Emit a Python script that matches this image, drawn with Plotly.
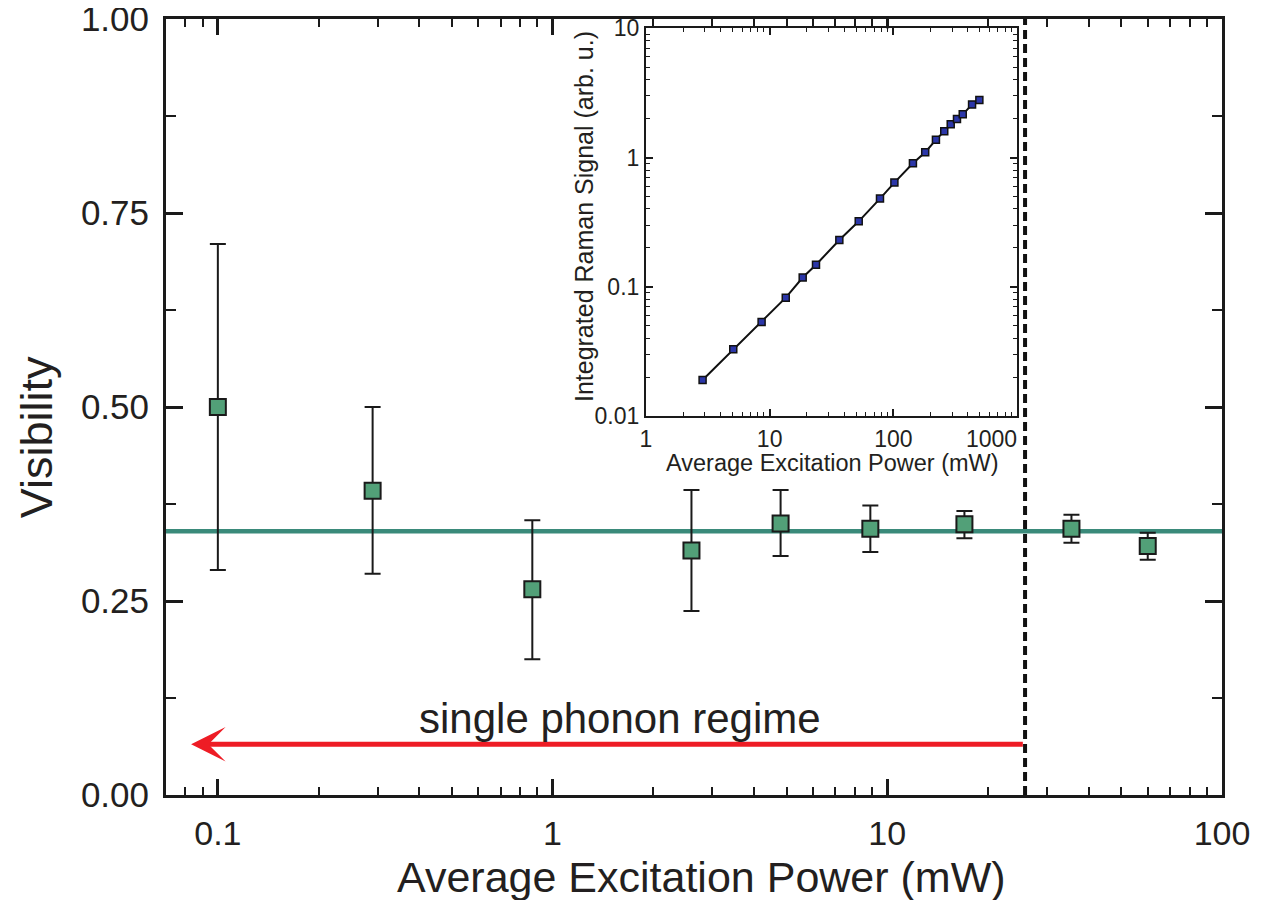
import math
import plotly.graph_objects as go

# ---------------- data ----------------
power_mw = [0.1, 0.29, 0.87, 2.6, 4.8, 8.9, 17, 35.5, 60]
visibility = [0.50, 0.392, 0.265, 0.315, 0.350, 0.343, 0.349, 0.343, 0.321]
vis_upper = [0.710, 0.500, 0.354, 0.393, 0.393, 0.373, 0.366, 0.361, 0.338]
vis_lower = [0.290, 0.285, 0.175, 0.237, 0.308, 0.313, 0.331, 0.325, 0.303]
mean_visibility = 0.34
regime_limit_mw = 25.8

inset_power = [2.87, 5.08, 8.61, 13.5, 18.5, 23.7, 36.6, 52.5, 78, 102,
               144, 181, 221, 258, 291, 327, 364, 433, 496]
inset_signal = [0.019, 0.0328, 0.0534, 0.0824, 0.118, 0.148, 0.230, 0.321,
                0.481, 0.640, 0.902, 1.10, 1.37, 1.60, 1.81, 1.99, 2.16,
                2.57, 2.79]

main_xticks = [0.1, 1, 10, 100]
main_xticktext = ["0.1", "1", "10", "100"]
main_yticks = [0, 0.25, 0.5, 0.75, 1.0]
main_yticktext = ["0.00", "0.25", "0.50", "0.75", "1.00"]
inset_xticks = [1, 10, 100, 1000]
inset_xticktext = ["1", "10", "100", "1000" + "\u00a0" * 8]
inset_yticks = [0.01, 0.1, 1, 10]
inset_yticktext = ["0.01", "0.1", "1", "10"]

# ---------------- styles ----------------
FONT = "Liberation Sans, Arial, Helvetica, sans-serif"
TXT = "#231F20"
GREEN = "#52A078"
TEAL = "#3A8A7A"
BLUE = "#2B36A8"
RED = "#EE1C25"

err_plus = [u - v for u, v in zip(vis_upper, visibility)]
err_minus = [v - l for v, l in zip(visibility, vis_lower)]

x_lo, x_hi = 0.07, 100

def minor_vals(decades):
    out = []
    for d in decades:
        for m in range(2, 10):
            out.append(m * 10 ** d)
    return out

fig = go.Figure()

# mean visibility line
fig.add_trace(go.Scatter(
    x=[x_lo, x_hi], y=[mean_visibility, mean_visibility],
    mode="lines", line=dict(color=TEAL, width=4.5),
    hoverinfo="skip", showlegend=False, xaxis="x", yaxis="y"))

# regime boundary
fig.add_trace(go.Scatter(
    x=[regime_limit_mw, regime_limit_mw], y=[0, 1],
    mode="lines", line=dict(color="#111111", width=4, dash="9px,5px"),
    hoverinfo="skip", showlegend=False, xaxis="x", yaxis="y"))

# data with error bars
fig.add_trace(go.Scatter(
    x=power_mw, y=visibility, mode="markers",
    marker=dict(symbol="square", size=16, color=GREEN,
                line=dict(color="#1a1a1a", width=2)),
    error_y=dict(type="data", symmetric=False, array=err_plus,
                 arrayminus=err_minus, color="#1a1a1a", thickness=2, width=8),
    showlegend=False, xaxis="x", yaxis="y"))

# inset
fig.add_trace(go.Scatter(
    x=inset_power, y=inset_signal, mode="lines+markers",
    line=dict(color="#111111", width=2),
    marker=dict(symbol="square", size=7, color=BLUE,
                line=dict(color="#111111", width=1.5)),
    showlegend=False, xaxis="x2", yaxis="y2"))

ax_common = dict(showgrid=False, zeroline=False, showline=True,
                 linecolor="#1a1a1a", mirror="allticks", ticks="inside",
                 tickcolor="#1a1a1a", automargin=False,
                 ticklabeloverflow="allow")

# the page body adds an 8px offset, so the figure is 8px smaller here
fig.update_layout(
    width=1258, height=892, autosize=False,
    margin=dict(l=158, r=44, t=11, b=105),
    paper_bgcolor="white", plot_bgcolor="white",
    font=dict(family=FONT, color=TXT),
    xaxis=dict(**ax_common, type="log",
               range=[math.log10(x_lo), math.log10(x_hi)],
               linewidth=3, ticklen=16, tickwidth=2.5,
               tickvals=main_xticks, ticktext=main_xticktext,
               tickfont=dict(size=34, family=FONT, color=TXT),
               ticklabelstandoff=6,
               minor=dict(ticks="inside", ticklen=8, tickwidth=2,
                          tickcolor="#1a1a1a",
                          tickvals=minor_vals([-2, -1, 0, 1]))),
    yaxis=dict(**ax_common, range=[0, 1], linewidth=3, ticklen=17,
               tickwidth=2.5, tickvals=main_yticks, ticktext=main_yticktext,
               tickfont=dict(size=35, family=FONT, color=TXT),
               ticklabelstandoff=7,
               minor=dict(ticks="inside", ticklen=10, tickwidth=2,
                          tickcolor="#1a1a1a",
                          tickvals=[0.125, 0.375, 0.625, 0.875])),
    xaxis2=dict(**ax_common, type="log", range=[0, 3],
                domain=[0.4545, 0.8059], anchor="y2",
                linewidth=2, ticklen=7, tickwidth=1.5,
                tickvals=inset_xticks, ticktext=inset_xticktext,
                tickfont=dict(size=23, family=FONT, color=TXT),
                ticklabelstandoff=1,
                minor=dict(ticks="inside", ticklen=4, tickwidth=1.2,
                           tickcolor="#1a1a1a",
                           tickvals=minor_vals([0, 1, 2]))),
    yaxis2=dict(**ax_common, type="log", range=[-2, 1],
                domain=[0.4884, 0.988], anchor="x2",
                linewidth=2, ticklen=7, tickwidth=1.5,
                tickvals=inset_yticks, ticktext=inset_yticktext,
                tickfont=dict(size=23, family=FONT, color=TXT),
                ticklabelstandoff=0,
                minor=dict(ticks="inside", ticklen=4, tickwidth=1.2,
                           tickcolor="#1a1a1a",
                           tickvals=minor_vals([-2, -1, 0]))),
)

# arrow for single-phonon regime
fig.add_annotation(
    x=math.log10(0.0832), y=0.0653, ax=math.log10(regime_limit_mw * 0.995),
    ay=0.0653, xref="x", yref="y", axref="x", ayref="y",
    text="", showarrow=True, arrowhead=3, arrowwidth=5, arrowsize=1.15,
    arrowcolor=RED, standoff=0)
fig.add_annotation(
    x=math.log10(1.59), y=0.099, xref="x", yref="y",
    text="single phonon regime", showarrow=False,
    font=dict(size=42, family=FONT, color=TXT),
    xanchor="center", yanchor="middle")
# main axis titles
fig.add_annotation(
    x=-0.1231, y=0.461, xref="paper", yref="paper",
    text="Visibility", textangle=-90, showarrow=False,
    font=dict(size=45, family=FONT, color=TXT),
    xanchor="center", yanchor="middle")
fig.add_annotation(
    x=0.507, y=-0.106, xref="paper", yref="paper",
    text="Average Excitation Power (mW)", showarrow=False,
    font=dict(size=43, family=FONT, color=TXT),
    xanchor="center", yanchor="middle")
# inset axis titles
fig.add_annotation(
    x=0.396, y=0.745, xref="paper", yref="paper",
    text="Integrated Raman Signal (arb. u.)", textangle=-90, showarrow=False,
    font=dict(size=25, family=FONT, color=TXT),
    xanchor="center", yanchor="middle")
fig.add_annotation(
    x=0.6307, y=0.4275, xref="paper", yref="paper",
    text="Average Excitation Power (mW)", showarrow=False,
    font=dict(size=23.5, family=FONT, color=TXT),
    xanchor="center", yanchor="middle")

fig.write_html("out.html")
